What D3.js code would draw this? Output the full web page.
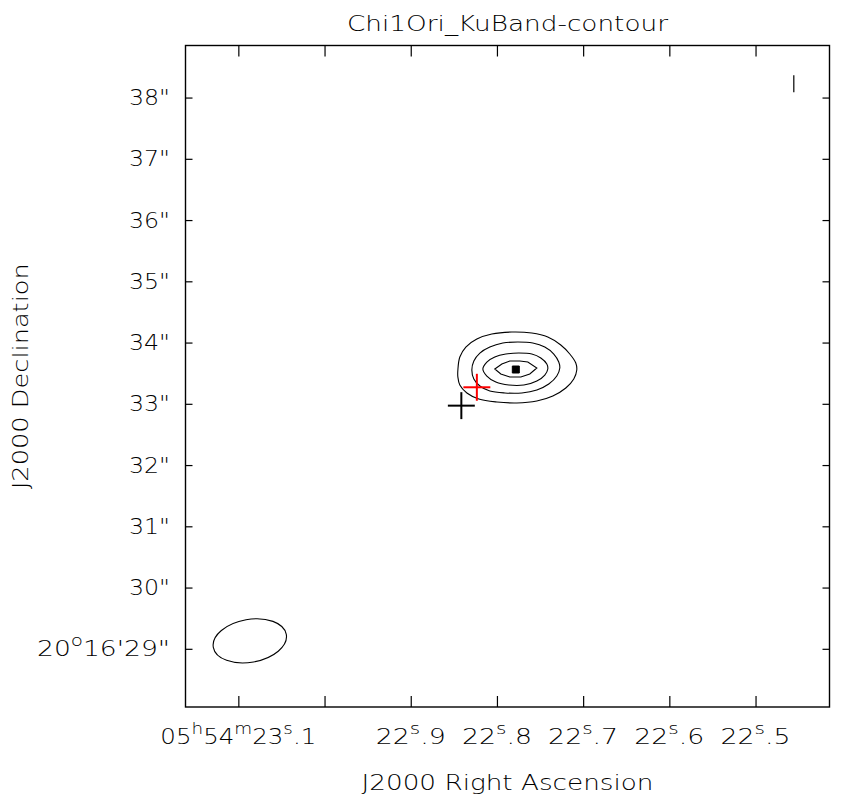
<!DOCTYPE html>
<html><head><meta charset="utf-8">
<script src="https://cdn.jsdelivr.net/npm/d3@7"></script>
<style>
html,body{margin:0;padding:0;background:#fff;}
svg{display:block;}
text{font-family:"DejaVu Sans",sans-serif;font-weight:200;fill:#000;}
</style></head><body>
<svg id="chart" width="847" height="801"></svg>
<script>
// ---------------- data ----------------
const chartTitle = "Chi1Ori_KuBand-contour";
const xAxisTitle = "J2000 Right Ascension";
const yAxisTitle = "J2000 Declination";
const decDeg = 20.2697;                 // declination used for RA scaling
const raDomain = [23.1613, 22.4142];    // RA seconds past 05h54m
const decDomain = [28.05, 38.85];       // Dec arcsec past +20°16'
const raTicks = [23.1, 23.0, 22.9, 22.8, 22.7, 22.6, 22.5];
const raTickLabels = ["05^h54^m23^s.1", "", "22^s.9", "22^s.8", "22^s.7", "22^s.6", "22^s.5"];
const decTicks = [29, 30, 31, 32, 33, 34, 35, 36, 37, 38];
const decTickLabels = ["20^o16'29\"", "30\"", "31\"", "32\"", "33\"", "34\"", "35\"", "36\"", "37\"", "38\""];

// peak position of the source
const peakRA = 22.7781, peakDec = 33.56;
// contour vertices: [offset west (arcsec), offset north (arcsec)] from the peak
const contourLevel1 = [[-0.946,-0.008],[-0.914,0.204],[-0.816,0.367],[-0.636,0.498],[-0.392,0.579],[-0.065,0.612],[0.261,0.595],[0.522,0.530],[0.734,0.400],[0.881,0.253],[0.979,0.106],[0.995,-0.008],[0.946,-0.155],[0.816,-0.302],[0.604,-0.432],[0.343,-0.514],[0.016,-0.546],[-0.310,-0.530],[-0.604,-0.481],[-0.799,-0.383],[-0.914,-0.253],[-0.946,-0.122]];
const contourLevel2 = [[-0.718,-0.008],[-0.685,0.139],[-0.587,0.269],[-0.424,0.367],[-0.212,0.432],[0.033,0.449],[0.277,0.432],[0.473,0.367],[0.620,0.253],[0.701,0.122],[0.718,0.024],[0.669,-0.106],[0.538,-0.237],[0.343,-0.334],[0.098,-0.383],[-0.179,-0.383],[-0.424,-0.351],[-0.587,-0.269],[-0.685,-0.155]];
const contourLevel3 = [[-0.538,0.008],[-0.473,0.122],[-0.343,0.204],[-0.163,0.253],[0.049,0.269],[0.261,0.253],[0.408,0.188],[0.506,0.090],[0.522,0.008],[0.473,-0.090],[0.343,-0.188],[0.131,-0.253],[-0.114,-0.253],[-0.326,-0.204],[-0.473,-0.106]];
const contourLevel4 = [[-0.343,0.008],[-0.228,0.090],[-0.098,0.139],[0.065,0.139],[0.196,0.122],[0.343,0.024],[0.228,-0.073],[0.082,-0.122],[-0.098,-0.122],[-0.245,-0.073]];
const contourLevel5 = [[-0.057,0.057],[0.057,0.057],[0.057,-0.057],[-0.057,-0.057]];

// restoring beam (arcsec, tilt degrees counter-clockwise from horizontal)
const beamRA = 23.0867, beamDec = 29.13, beamMajor = 1.21, beamMinor = 0.70, beamTilt = 10;
// position markers
const markerRA = [22.8413, 22.8233];
const markerDec = [32.97, 33.27];
const markerNames = ["catalog", "fit"];
const markerHalf = 0.22; // arcsec
// small vertical bar at top right
const barRA = 22.4556, barDec = [38.086, 38.364];

// ---------------- drawing ----------------
const svg = d3.select("#chart");
const W = 847, H = 801;
const L = 185.5, R = 829.5, T = 45.5, B = 707;
svg.append("rect").attr("width", W).attr("height", H).attr("fill", "#fff");

const x = d3.scaleLinear().domain(raDomain).range([L, R]);
const y = d3.scaleLinear().domain(decDomain).range([B, T]);
const pxPerArcsec = Math.abs(y(1) - y(0));
const arcsecPerSec = 15 * Math.cos(decDeg * Math.PI / 180);

function addLabel(sel, str) {
  // '^c' => superscript single character
  let parts = [];
  let i = 0, buf = "";
  while (i < str.length) {
    if (str[i] === "^") {
      if (buf) parts.push({t: buf, sup: false});
      buf = "";
      parts.push({t: str[i + 1], sup: true});
      i += 2;
    } else { buf += str[i]; i++; }
  }
  if (buf) parts.push({t: buf, sup: false});
  let prevSup = false;
  parts.forEach(p => {
    const ts = sel.append("tspan").text(p.t);
    if (p.sup) { ts.attr("font-size", "0.75em").attr("dy", "-0.6em"); }
    else if (prevSup) { ts.attr("dy", "0.45em"); }
    prevSup = p.sup;
  });
}

// axes
const tickStyle = g => {
  g.select(".domain").remove();
  g.selectAll(".tick line").attr("stroke", "#000").attr("stroke-width", 1.2);
  g.selectAll(".tick text").remove();
};
svg.append("g").attr("transform", `translate(0,${B})`)
  .call(d3.axisBottom(x).tickValues(raTicks).tickSize(-11)).call(tickStyle);
svg.append("g").attr("transform", `translate(0,${T})`)
  .call(d3.axisTop(x).tickValues(raTicks).tickSize(-11)).call(tickStyle);
svg.append("g").attr("transform", `translate(${L},0)`)
  .call(d3.axisLeft(y).tickValues(decTicks).tickSize(-7)).call(tickStyle);
svg.append("g").attr("transform", `translate(${R},0)`)
  .call(d3.axisRight(y).tickValues(decTicks).tickSize(-7)).call(tickStyle);

// frame
svg.append("rect").attr("x", L).attr("y", T).attr("width", R - L).attr("height", B - T)
  .attr("fill", "none").attr("stroke", "#000").attr("stroke-width", 1.4);

const fs = 22;
// x tick labels
raTicks.forEach((v, i) => {
  if (!raTickLabels[i]) return;
  const t = svg.append("text").attr("x", x(v)).attr("y", 744).attr("text-anchor", "middle")
    .attr("font-size", fs);
  addLabel(t, raTickLabels[i]);
  t.attr("textLength", i === 0 ? 156 : 70).attr("lengthAdjust", "spacingAndGlyphs");
});
// y tick labels
decTicks.forEach((v, i) => {
  const t = svg.append("text").attr("x", 170).attr("y", y(v) + 7.5).attr("text-anchor", "end")
    .attr("font-size", fs);
  addLabel(t, decTickLabels[i]);
  t.attr("textLength", i === 0 ? 133 : 41).attr("lengthAdjust", "spacingAndGlyphs");
});

// titles
svg.append("text").attr("x", (L + R) / 2).attr("y", 31).attr("text-anchor", "middle")
  .attr("font-size", fs).attr("textLength", 321).attr("lengthAdjust", "spacingAndGlyphs").text(chartTitle);
svg.append("text").attr("x", (L + R) / 2).attr("y", 790).attr("text-anchor", "middle")
  .attr("font-size", fs).attr("textLength", 292).attr("lengthAdjust", "spacingAndGlyphs").text(xAxisTitle);
svg.append("text").attr("transform", `translate(28,${(T + B) / 2}) rotate(-90)`).attr("text-anchor", "middle")
  .attr("font-size", fs).attr("textLength", 226).attr("lengthAdjust", "spacingAndGlyphs").text(yAxisTitle);

// contours
const toPt = d => [x(peakRA - d[0] / arcsecPerSec), y(peakDec + d[1])];
const smooth = d3.line().curve(d3.curveCatmullRomClosed.alpha(0.5));
const linear = d3.line().curve(d3.curveLinearClosed);
[contourLevel1, contourLevel2, contourLevel3].forEach(c => {
  svg.append("path").attr("d", smooth(c.map(toPt))).attr("fill", "none")
    .attr("stroke", "#000").attr("stroke-width", 1.1);
});
svg.append("path").attr("d", linear(contourLevel4.map(toPt))).attr("fill", "none")
  .attr("stroke", "#000").attr("stroke-width", 1.1);
svg.append("path").attr("d", linear(contourLevel5.map(toPt))).attr("fill", "#000")
  .attr("stroke", "#000").attr("stroke-width", 1);

// beam ellipse
svg.append("ellipse")
  .attr("transform", `translate(${x(beamRA)},${y(beamDec)}) rotate(${-beamTilt})`)
  .attr("rx", beamMajor / 2 * pxPerArcsec).attr("ry", beamMinor / 2 * pxPerArcsec)
  .attr("fill", "none").attr("stroke", "#000").attr("stroke-width", 1.1);

// markers (crosses)
const markerColors = ["#000", "#ff0000"];
markerRA.forEach((ra, i) => {
  const cx = x(ra), cy = y(markerDec[i]), h = markerHalf * pxPerArcsec;
  const g = svg.append("g").attr("stroke", markerColors[i]).attr("stroke-width", 2);
  g.append("line").attr("x1", cx - h).attr("x2", cx + h).attr("y1", cy).attr("y2", cy);
  g.append("line").attr("x1", cx).attr("x2", cx).attr("y1", cy - h).attr("y2", cy + h);
});

// small bar
svg.append("line").attr("x1", x(barRA)).attr("x2", x(barRA))
  .attr("y1", y(barDec[0])).attr("y2", y(barDec[1])).attr("stroke", "#000").attr("stroke-width", 1.2);
</script></body></html>
